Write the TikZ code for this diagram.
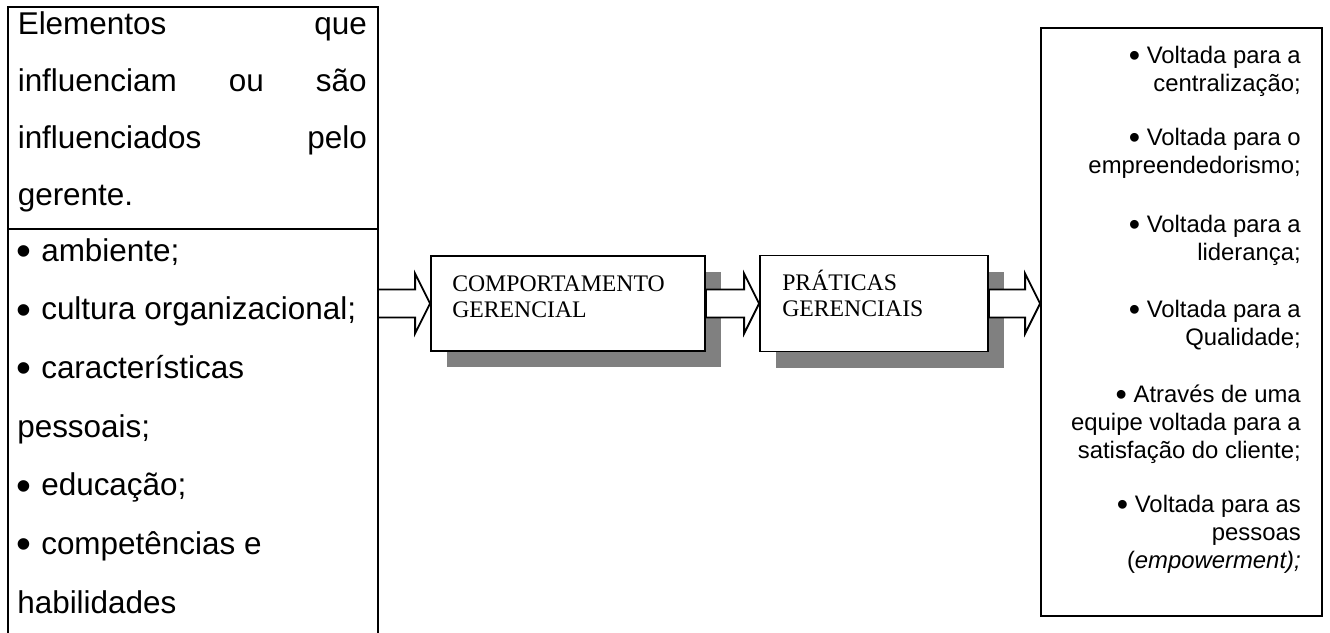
\documentclass[tikz,border=0pt]{standalone}
\usepackage{fontspec}
\usepackage{graphicx}
\setmainfont{Liberation Sans}
\newfontfamily\serifA{Liberation Serif}
\usetikzlibrary{calc,shadows}
\newcommand\mybul{\raisebox{-0.14em}{\scalebox{1.35}{•}}}
\newcommand\blockarrow[2]{%
  \draw[barrow] let \p1=(#1), \p2=(#2) in
    (\x1,\y1+10.5pt) -- (\x2-11.25pt,\y1+10.5pt) -- (\x2-11.25pt,\y1+22.5pt) --
    (\x2,\y1) -- (\x2-11.25pt,\y1-22.5pt) -- (\x2-11.25pt,\y1-10.5pt) --
    (\x1,\y1-10.5pt) -- cycle;}
\begin{document}
\begin{tikzpicture}[x=0.75pt,y=-0.75pt,
  ltext/.style={font=\fontsize{23.6pt}{28pt}\selectfont, inner sep=0pt, anchor=base west},
  rtext/.style={font=\fontsize{17.9pt}{21pt}\selectfont, inner sep=0pt, anchor=base east},
  stext/.style={font=\serifA\fontsize{17.8pt}{21pt}\selectfont, inner sep=0pt, anchor=base west},
  framebox/.style={draw, line width=1.4pt, fill=white, inner sep=0pt},
  shadowbox/.style={framebox, drop shadow={shadow xshift=12pt, shadow yshift=-12pt, opacity=1, fill=black!50}},
  barrow/.style={draw, line width=1.4pt, fill=white, line join=miter},
  frameline/.style={line width=1.4pt}]
\useasboundingbox (0,0) rectangle (1330,632);

% left box (runs past the bottom edge)
\draw[frameline] (8,645) -- (8,7) -- (378,7) -- (378,645);
\draw[frameline] (8,229) -- (378,229);
\coordinate (lin) at (378,303.5);

% upper left text (justified)
\node[ltext] (l1) at (17.5,34)  {\makebox[261.75pt][l]{Elementos\hfill que}};
\node[ltext] (l2) at (17.5,91)  {\makebox[261.75pt][l]{influenciam\hfill ou\hfill são}};
\node[ltext] (l3) at (17.5,148) {\makebox[261.75pt][l]{influenciados\hfill pelo}};
\node[ltext] (l4) at (17.5,205) {gerente.};

% lower left list
\node[ltext] (b1) at (16,261)   {\mybul};
\node[ltext] (t1) at (41,261)   {ambiente;};
\node[ltext] (b2) at (16,319.7) {\mybul};
\node[ltext] (t2) at (41,319.7) {cultura organizacional;};
\node[ltext] (b3) at (16,378.4) {\mybul};
\node[ltext] (t3) at (41,378.4) {características};
\node[ltext] (t3b) at (17,437)  {pessoais;};
\node[ltext] (b4) at (16,495.8) {\mybul};
\node[ltext] (t4) at (41,495.8) {educação;};
\node[ltext] (b5) at (16,554.5) {\mybul};
\node[ltext] (t5) at (41,554.5) {competências e};
\node[ltext] (t5b) at (17,613)  {habilidades};

% middle boxes
\node[shadowbox, minimum width=205.5pt, minimum height=71.25pt] (box1) at (568,303.5) {};
\node[stext] (c1) at (452,291) {COMPORTAMENTO};
\node[stext] (c2) at (452,317) {GERENCIAL};

\node[shadowbox, minimum width=171pt, minimum height=72pt] (box2) at (874,303.5) {};
\node[stext] (p1) at (782,290) {PRÁTICAS};
\node[stext] (p2) at (782,316) {GERENCIAIS};

% right box
\node[framebox, minimum width=210.75pt, minimum height=441pt] (rbox) at (1181.5,322) {};
\node[rtext] (r1)  at (1301,63)  {\mybul\ Voltada para a};
\node[rtext] (r2)  at (1301,91)  {centralização;};
\node[rtext] (r3)  at (1301,145) {\mybul\ Voltada para o};
\node[rtext] (r4)  at (1301,173) {empreendedorismo;};
\node[rtext] (r5)  at (1301,232) {\mybul\ Voltada para a};
\node[rtext] (r6)  at (1301,260) {liderança;};
\node[rtext] (r7)  at (1301,317) {\mybul\ Voltada para a};
\node[rtext] (r8)  at (1301,345) {Qualidade;};
\node[rtext] (r9)  at (1301,402) {\mybul\ Através de uma};
\node[rtext] (r10) at (1301,430) {equipe voltada para a};
\node[rtext] (r11) at (1301,458) {satisfação do cliente;};
\node[rtext] (r12) at (1301,512) {\mybul\ Voltada para as};
\node[rtext] (r13) at (1301,540) {pessoas};
\node[rtext] (r14) at (1301,568) {({\itshape empowerment);}};

% block arrows
\blockarrow{lin}{box1.west}
\blockarrow{box1.east}{box2.west}
\blockarrow{box2.east}{box2.east -| rbox.west}
\end{tikzpicture}
\end{document}
